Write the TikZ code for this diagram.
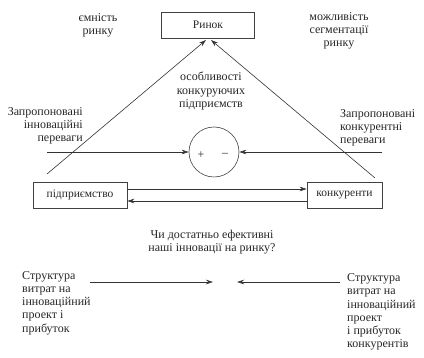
\documentclass[tikz,border=0pt]{standalone}
\usepackage{fontspec}
\setmainfont{Liberation Serif}
\usetikzlibrary{arrows.meta}
\begin{document}
\begin{tikzpicture}[x=1pt,y=-1pt,
  every node/.style={font=\fontsize{12}{13.3}\selectfont, text=black!85, inner sep=0pt},
  boxed/.style={draw=black!75, line width=0.6pt, minimum height=26pt, font=\fontsize{11.5}{13}\selectfont},
  conn/.style={draw=black!80, line width=0.6pt},
  arr/.style={conn, -{Stealth[length=7pt,width=4.5pt]}}]
\useasboundingbox (0,0) rectangle (424,358);
\node[boxed, minimum width=93pt] (market) at (208,25) {Ринок};
\node[boxed, minimum width=94pt] (firm) at (80,195) {підприємство};
\node[boxed, minimum width=75pt] (comp) at (344.5,195) {конкуренти};
\node[draw=black!75, line width=0.6pt, circle, minimum size=50pt] (circ) at (214,152) {};
\node (plus) at (201,155) {+};
\node (minus) at (225,155) {--};

\node[align=center] (cap) at (98,25) {ємність\\ринку};
\node[align=center] (seg) at (339,31) {можливість\\сегментації\\ринку};
\node[align=center] (feat) at (211,91) {особливості\\конкуруючих\\підприємств};
\node[align=right, anchor=east] (innov) at (83,126) {Запропоновані\\інноваційні\\переваги};
\node[align=left, anchor=west] (compadv) at (340,128) {Запропоновані\\конкурентні\\переваги};
\node[align=center] (q) at (212,242) {Чи достатньо ефективні\\наші інновації на ринку?};
\node[align=left, anchor=west] (costl) at (22,303) {Структура\\витрат на\\інноваційний\\проект і\\прибуток};
\node[align=left, anchor=west] (costr) at (347,312) {Структура\\витрат на\\інноваційний\\проект\\і прибуток\\конкурентів};

\coordinate (lb) at (47,174);
\coordinate (lt) at (206,40);
\coordinate (rb) at (375,178);
\coordinate (rt) at (211,40);
\draw[arr] (lb) -- (lt);
\draw[arr] (rb) -- (rt);

\coordinate (hl) at (47,152);
\coordinate (hr) at (382,152);
\draw[arr] (hl) -- (circ.west);
\draw[arr] (hr) -- (circ.east);

\draw[arr] (firm.east |- 0,189) -- (comp.west |- 0,189);
\draw[arr] (comp.west |- 0,201) -- (firm.east |- 0,201);

\coordinate (bl1) at (90,282);
\coordinate (bl2) at (213,282);
\coordinate (br1) at (340,282);
\coordinate (br2) at (237,282);
\draw[arr] (bl1) -- (bl2);
\draw[arr] (br1) -- (br2);
\end{tikzpicture}
\end{document}
